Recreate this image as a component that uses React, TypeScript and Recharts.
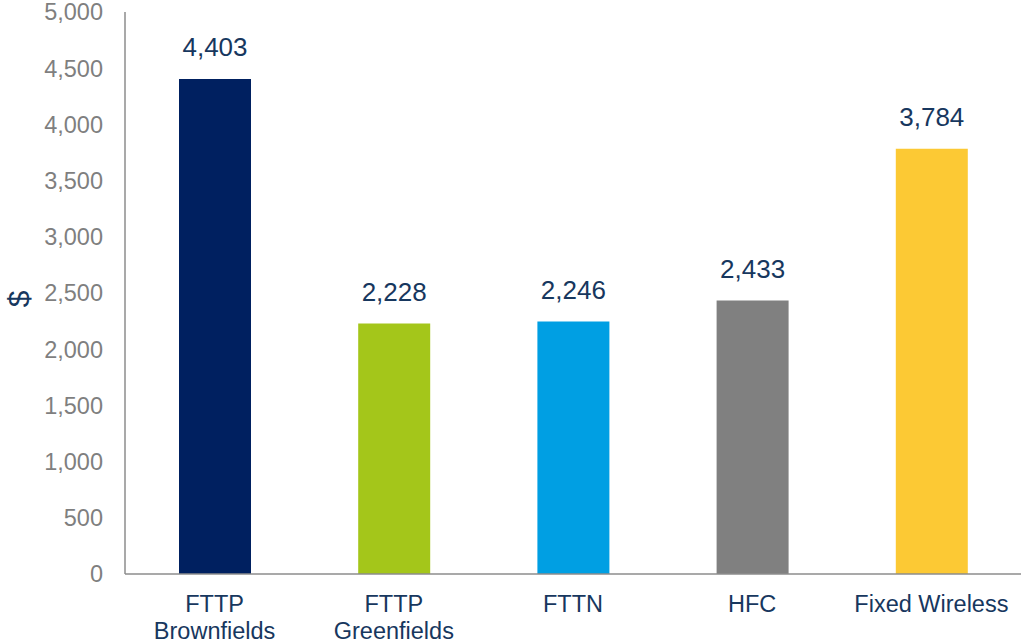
import { BarChart, Bar, XAxis, YAxis, Cell, LabelList } from "recharts";

const categories = ["FTTP\nBrownfields", "FTTP\nGreenfields", "FTTN", "HFC", "Fixed Wireless"];
const costs = [4403, 2228, 2246, 2433, 3784];
const barColors = ["#002060", "#a4c61a", "#009fe3", "#808080", "#fcc934"];
const yTicks = [0, 500, 1000, 1500, 2000, 2500, 3000, 3500, 4000, 4500, 5000];

const data = categories.map((name, i) => ({ name, cost: costs[i] }));

const font = "'Liberation Sans', Arial, sans-serif";
const navy = "#17375e";
const gray = "#7f7f7f";

const fmt = (v: number) => v.toLocaleString("en-US");

function CategoryTick(props: any) {
  const { x, y, payload } = props;
  const lines = String(payload.value).split("\n");
  return (
    <text x={x} y={y} textAnchor="middle" fill={navy} fontSize={23.5} fontFamily={font}>
      {lines.map((line, i) => (
        <tspan key={i} x={x} dy={i === 0 ? 38 : 26.5}>
          {line}
        </tspan>
      ))}
    </text>
  );
}

export default function App() {
  return (
    <div style={{ position: "absolute", left: 0, top: 0 }}>
      <BarChart
        width={1021}
        height={644}
        data={data}
        margin={{ top: 12, right: 0, bottom: 0, left: 0 }}
      >
        <XAxis
          dataKey="name"
          height={70}
          tickLine={false}
          tickSize={0}
          tickMargin={0}
          interval={0}
          axisLine={{ stroke: "#8c8c8c", strokeWidth: 1.5 }}
          tick={<CategoryTick />}
        />
        <YAxis
          width={125}
          domain={[0, 5000]}
          ticks={yTicks}
          interval={0}
          tickLine={false}
          tickSize={0}
          tickMargin={22}
          axisLine={{ stroke: "#8c8c8c", strokeWidth: 1.5 }}
          tickFormatter={fmt}
          tick={{ fill: gray, fontSize: 23.5, fontFamily: font }}
          label={{
            value: "$",
            angle: -90,
            position: "insideLeft",
            offset: 18,
            dy: 6,
            style: { fill: navy, fontSize: 30, fontFamily: font, textAnchor: "middle" },
          }}
        />
        <Bar dataKey="cost" barSize={72} isAnimationActive={false}>
          {data.map((d, i) => (
            <Cell key={d.name} fill={barColors[i]} />
          ))}
          <LabelList
            dataKey="cost"
            position="top"
            offset={23}
            formatter={(v: any) => fmt(Number(v))}
            style={{ fill: navy, fontSize: 26, fontFamily: font }}
          />
        </Bar>
      </BarChart>
    </div>
  );
}
